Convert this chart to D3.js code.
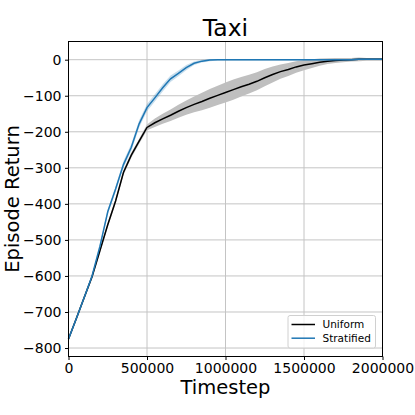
<!DOCTYPE html>
<html>
<head>
<meta charset="utf-8">
<script src="https://cdn.jsdelivr.net/npm/d3@7"></script>
<style>
  body { margin: 0; background: #fff; }
  svg { display: block; font-family: "DejaVu Sans", sans-serif; }
</style>
</head>
<body>
<div id="main"></div>
<script>
// values
var steps = [0, 50000, 100000, 150000, 200000, 250000, 300000, 350000, 400000, 450000,
             500000, 550000, 600000, 650000, 700000, 750000, 800000, 850000, 900000, 950000,
             1000000, 1050000, 1100000, 1150000, 1200000, 1250000, 1300000, 1350000, 1400000, 1450000,
             1500000, 1550000, 1600000, 1650000, 1700000, 1750000, 1800000, 1850000, 1900000, 1950000,
             2000000];
var uniformMean = [-775, -718, -660, -602, -530, -458, -392, -313, -265, -226,
                   -188, -175, -164, -154, -143, -133, -124, -116, -107, -99,
                   -91, -83, -75, -68, -60, -50, -41, -33, -27, -20,
                   -15, -11, -7, -4, -2, -1, 0, 1, 1, 1,
                   1];
var uniformSpread = [4, 5, 5, 6, 6, 6, 7, 7, 7, 7,
                     8, 12, 14, 16, 18, 20, 22, 24, 26, 27,
                     28, 28, 27, 26, 25, 24, 22, 20, 18, 16,
                     14, 12, 10, 8, 7, 6, 5, 5, 4, 4,
                     4];
var stratifiedMean = [-775, -718, -660, -600, -518, -422, -359, -291, -243, -178,
                      -133, -106, -78, -53, -38, -22, -10, -4, -1, 0,
                      0, 0, 0, 0, 0, 0, 0, 0, 0, 0,
                      0, 0, 0, 0, 0, 0, 0, 1, 1, 1,
                      1];
var stratifiedSpread = [4, 4, 4, 4, 6, 7, 8, 9, 10, 10,
                        10, 10, 10, 9, 8, 7, 5, 4, 3, 2,
                        2, 2, 2, 2, 2, 2, 2, 2, 2, 2,
                        2, 2, 2, 2, 2, 2, 2, 2, 2, 2,
                        2];
var xTicks = [0, 500000, 1000000, 1500000, 2000000];
var yTicks = [0, -100, -200, -300, -400, -500, -600, -700, -800];
var seriesNames = ["Uniform", "Stratified"];

var ctx = {
    w: 415,
    h: 415,
    left: 68.5,
    right: 382.5,
    top: 41.5,
    bottom: 356.5
};

var svg = d3.select("#main").append("svg")
    .attr("width", ctx.w)
    .attr("height", ctx.h);

var x = d3.scaleLinear().domain([0, 2000000]).range([ctx.left, ctx.right]);
var y = d3.scaleLinear().domain([-823.5, 50.5]).range([ctx.bottom, ctx.top]);

// grid
var grid = svg.append("g");
grid.selectAll("line.gx").data(xTicks).enter().append("line")
    .attr("x1", function(d){ return x(d); }).attr("x2", function(d){ return x(d); })
    .attr("y1", ctx.top).attr("y2", ctx.bottom)
    .style("stroke", "#c4c4c4").style("stroke-width", 1);
grid.selectAll("line.gy").data(yTicks).enter().append("line")
    .attr("y1", function(d){ return y(d); }).attr("y2", function(d){ return y(d); })
    .attr("x1", ctx.left).attr("x2", ctx.right)
    .style("stroke", "#c4c4c4").style("stroke-width", 1);

var rows = steps.map(function(s, i){
    return { t: s, um: uniformMean[i], us: uniformSpread[i], sm: stratifiedMean[i], ss: stratifiedSpread[i] };
});

var bandU = d3.area().x(function(d){ return x(d.t); })
    .y0(function(d){ return y(d.um - d.us); }).y1(function(d){ return y(d.um + d.us); });
var bandS = d3.area().x(function(d){ return x(d.t); })
    .y0(function(d){ return y(d.sm - d.ss); }).y1(function(d){ return y(d.sm + d.ss); });
var lineU = d3.line().x(function(d){ return x(d.t); }).y(function(d){ return y(d.um); });
var lineS = d3.line().x(function(d){ return x(d.t); }).y(function(d){ return y(d.sm); });

var plot = svg.append("g");
plot.append("path").attr("d", bandU(rows)).style("fill", "#bfbfbf");
plot.append("path").attr("d", lineU(rows)).style("fill", "none")
    .style("stroke", "#000").style("stroke-width", 1.5);
plot.append("path").attr("d", bandS(rows)).style("fill", "#1f77b4").style("fill-opacity", 0.25);
plot.append("path").attr("d", lineS(rows)).style("fill", "none")
    .style("stroke", "#1f77b4").style("stroke-width", 1.5);

// axes
var xAxis = svg.append("g").attr("transform", "translate(0," + ctx.bottom + ")")
    .call(d3.axisBottom(x).tickValues(xTicks).tickSize(3.5).tickPadding(3.5)
        .tickFormat(function(d){ return String(d); }));
var yAxis = svg.append("g").attr("transform", "translate(" + ctx.left + ",0)")
    .call(d3.axisLeft(y).tickValues(yTicks).tickSize(3.5).tickPadding(3.5)
        .tickFormat(function(d){ return d < 0 ? "\u2212" + Math.abs(d) : String(d); }));
[xAxis, yAxis].forEach(function(a){
    a.select(".domain").remove();
    a.selectAll("text").style("font-size", "14px").style("fill", "#000")
        .style("font-family", "DejaVu Sans");
    a.selectAll(".tick line").style("stroke", "#000").style("stroke-width", 1);
});

// frame
svg.append("rect")
    .attr("x", ctx.left).attr("y", ctx.top)
    .attr("width", ctx.right - ctx.left).attr("height", ctx.bottom - ctx.top)
    .style("fill", "none").style("stroke", "#000").style("stroke-width", 1);

// titles
svg.append("text").attr("x", (ctx.left + ctx.right) / 2).attr("y", 36)
    .attr("text-anchor", "middle").style("font-size", "23.5px").text("Taxi");
svg.append("text").attr("x", (ctx.left + ctx.right) / 2).attr("y", 394)
    .attr("text-anchor", "middle").style("font-size", "19.5px").text("Timestep");
svg.append("text")
    .attr("transform", "translate(18.5," + (ctx.top + ctx.bottom) / 2 + ") rotate(-90)")
    .attr("text-anchor", "middle").style("font-size", "19.5px").text("Episode Return");

// legend
var legend = svg.append("g").attr("transform", "translate(288,315.5)");
legend.append("rect").attr("width", 87.5).attr("height", 32.5).attr("rx", 2)
    .style("fill", "#fff").style("fill-opacity", 0.8)
    .style("stroke", "#d0d0d0").style("stroke-width", 1);
var colors = ["#000", "#1f77b4"];
var items = legend.selectAll("g.item").data(seriesNames).enter().append("g")
    .attr("transform", function(d, i){ return "translate(0," + (9 + i * 13.7) + ")"; });
items.append("line").attr("x1", 3.5).attr("x2", 27)
    .style("stroke", function(d, i){ return colors[i]; }).style("stroke-width", 1.5);
items.append("text").attr("x", 34.5).attr("y", 3.8)
    .style("font-size", "10.5px").text(function(d){ return d; });
</script>
</body>
</html>
